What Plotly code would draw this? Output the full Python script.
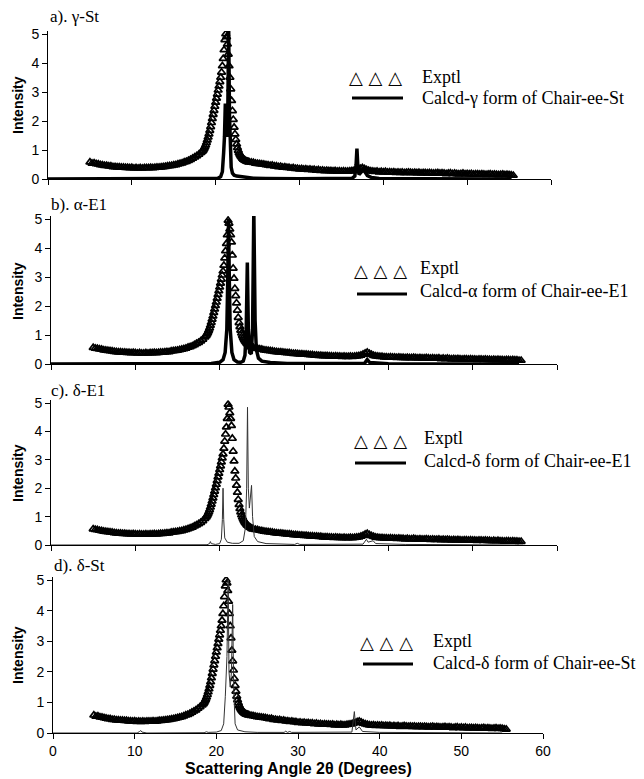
import plotly.graph_objects as go

# The page body adds an 8 px margin; the figure is sized to the visible area
OFF = 8
FW, FH = 644 - OFF, 779 - OFF

# ---------------- data ----------------
# Experimental patterns: three scan segments (start, step, values)
EXP_ST_LOW = [0.58, 0.54, 0.55, 0.52, 0.51, 0.49, 0.48, 0.46, 0.46, 0.44, 0.44, 0.42, 0.42, 0.41,
              0.41, 0.40, 0.40, 0.39, 0.39, 0.38, 0.39, 0.37, 0.38, 0.37, 0.38, 0.37, 0.38, 0.38,
              0.38, 0.39, 0.38, 0.39, 0.40, 0.40, 0.41, 0.42, 0.43, 0.44, 0.45, 0.46, 0.48, 0.49,
              0.51, 0.53, 0.55, 0.58, 0.60, 0.63, 0.67, 0.71, 0.75, 0.80, 0.85, 0.91]
EXP_ST_PEAK = [0.95, 0.99, 1.04, 1.10, 1.17, 1.25, 1.34, 1.44, 1.55, 1.67, 1.80, 1.94, 2.08, 2.22,
               2.36, 2.50, 2.64, 2.78, 2.92, 3.06, 3.20, 3.35, 3.50, 3.68, 3.90, 4.15, 4.45, 4.80,
               5.00, 4.90, 4.65, 4.30, 3.90, 3.50, 3.10, 2.70, 2.35, 2.05, 1.78, 1.55, 1.36, 1.20,
               1.08, 0.98, 0.90, 0.84, 0.79, 0.75, 0.71, 0.68, 0.66, 0.64, 0.62, 0.61, 0.60, 0.59]
EXP_ST_HIGH = [0.58, 0.57, 0.56, 0.54, 0.53, 0.52, 0.51, 0.50, 0.49,
               0.48, 0.46, 0.47, 0.44, 0.44, 0.42, 0.43, 0.40, 0.41, 0.39, 0.39, 0.37, 0.38, 0.36, 0.36, 0.34,
               0.35, 0.33, 0.34, 0.32, 0.33, 0.31, 0.32, 0.30, 0.31, 0.29, 0.30, 0.28, 0.29, 0.28, 0.28, 0.27,
               0.28, 0.26, 0.27, 0.26, 0.27, 0.26, 0.26, 0.27,
               0.28, 0.29, 0.31, 0.33, 0.36, 0.38, 0.35, 0.31, 0.29, 0.27, 0.26, 0.25,
               0.26, 0.24, 0.25, 0.24, 0.25, 0.23, 0.24, 0.23, 0.24, 0.22, 0.23, 0.22, 0.23, 0.21, 0.22, 0.23,
               0.22, 0.21, 0.22, 0.21, 0.22, 0.20, 0.21, 0.21,
               0.20, 0.21, 0.20, 0.19, 0.20, 0.21, 0.19, 0.20, 0.19, 0.18, 0.19, 0.20, 0.18, 0.19, 0.18, 0.17,
               0.18, 0.19, 0.17, 0.18, 0.17, 0.18, 0.16, 0.17,
               0.17, 0.16, 0.17, 0.16, 0.15, 0.16, 0.17, 0.15, 0.16, 0.15, 0.14, 0.15, 0.16, 0.14, 0.15, 0.14,
               0.13, 0.12]

EXP_E1_LOW = [0.56, 0.54, 0.53, 0.51, 0.50, 0.48, 0.47, 0.46, 0.45, 0.44, 0.43, 0.42, 0.41, 0.41,
              0.40, 0.40, 0.39, 0.39, 0.38, 0.39, 0.38, 0.37, 0.38, 0.37, 0.37, 0.38, 0.37, 0.38,
              0.38, 0.39, 0.38, 0.39, 0.40, 0.40, 0.41, 0.42, 0.42, 0.44, 0.45, 0.46, 0.47, 0.49,
              0.50, 0.52, 0.54, 0.57, 0.59, 0.62, 0.66, 0.70, 0.74, 0.79, 0.85, 0.93]
EXP_E1_PEAK = [0.98, 1.03, 1.09, 1.16, 1.24, 1.33, 1.43, 1.54, 1.65, 1.77, 1.89, 2.01, 2.13, 2.26,
               2.39, 2.52, 2.65, 2.78, 2.92, 3.06, 3.20, 3.40, 3.65, 3.90, 4.15, 4.45, 4.95, 4.85,
               4.65, 4.45, 4.20, 3.75, 3.30, 2.95, 2.60, 2.35, 2.10, 1.85, 1.60, 1.42, 1.28, 1.16,
               1.06, 0.98, 0.91, 0.85, 0.80, 0.76, 0.72, 0.69, 0.66, 0.64, 0.62, 0.60, 0.58, 0.57]
EXP_E1_HIGH = [0.56, 0.54, 0.53, 0.51, 0.50, 0.48, 0.47, 0.46, 0.45,
               0.44, 0.43, 0.42, 0.41, 0.41, 0.40, 0.39, 0.38, 0.38, 0.37, 0.36, 0.36, 0.35, 0.34, 0.34, 0.33,
               0.33, 0.32, 0.31, 0.31, 0.30, 0.30, 0.29, 0.29, 0.28, 0.28, 0.28, 0.27, 0.27, 0.26, 0.27, 0.26,
               0.26, 0.25, 0.26, 0.25, 0.25, 0.26, 0.25, 0.26,
               0.27, 0.28, 0.30, 0.33, 0.37, 0.40, 0.36, 0.32, 0.29, 0.27, 0.26, 0.25,
               0.25, 0.24, 0.24, 0.23, 0.24, 0.23, 0.23, 0.22, 0.23, 0.22, 0.22, 0.21, 0.22, 0.21, 0.21, 0.22,
               0.21, 0.20, 0.21, 0.20, 0.20, 0.21, 0.20, 0.19,
               0.20, 0.19, 0.19, 0.20, 0.18, 0.19, 0.18, 0.19, 0.18, 0.17, 0.18, 0.17, 0.18, 0.17, 0.16, 0.17,
               0.17, 0.16, 0.17, 0.16, 0.16, 0.15, 0.16, 0.16,
               0.15, 0.16, 0.15, 0.15, 0.14, 0.15, 0.14, 0.15, 0.14, 0.14, 0.13, 0.14, 0.14, 0.13, 0.14, 0.13,
               0.13, 0.12, 0.12]

SEG_LOW = (5.0, 0.25)
SEG_PEAK = (18.4, 0.1)
SEG_HIGH = (24.0, 0.25)

# Calculated patterns (2theta, intensity)
CALC_A_X = [0, 18, 19.5, 20.3, 20.6, 20.8, 20.95, 21.05, 21.15, 21.25, 21.35, 21.45, 21.55, 21.65,
            21.75, 21.85, 22.0, 22.2, 22.5, 23.0, 23.5, 24.5, 26, 30, 36.3, 36.6, 36.75, 36.85,
            36.95, 37.1, 37.4, 37.6, 37.8, 38.1, 38.6, 39.5, 45, 55.3]
CALC_A_Y = [0, 0, 0.01, 0.03, 0.08, 0.25, 0.9, 1.45, 2.6, 1.7, 1.45, 2.4, 5.3, 2.2,
            0.9, 0.4, 0.2, 0.13, 0.1, 0.08, 0.05, 0.03, 0.02, 0.01, 0.03, 0.1, 0.5, 1.05,
            0.5, 0.15, 0.25, 0.35, 0.25, 0.12, 0.05, 0.02, 0.01, 0]

CALC_B_X = [0, 15, 19, 20.0, 20.4, 20.65, 20.85, 20.95, 21.05, 21.15, 21.25, 21.45, 21.7, 22.1,
            22.5, 22.8, 23.0, 23.15, 23.28, 23.4, 23.55, 23.75, 23.9, 24.05, 24.2, 24.35, 24.6,
            25.0, 26, 28, 37.2, 37.5, 37.8, 40, 55.5]
CALC_B_Y = [0, 0, 0.02, 0.06, 0.15, 0.4, 1.2, 2.8, 5.0, 2.8, 1.2, 0.4, 0.15, 0.07,
            0.06, 0.1, 0.3, 1.2, 3.5, 1.2, 0.4, 0.35, 1.2, 5.3, 1.5, 0.5, 0.2,
            0.1, 0.05, 0.02, 0.03, 0.15, 0.05, 0.01, 0]

CALC_C_X = [0, 10, 18.5, 18.8, 18.9, 19.0, 19.5, 20.0, 20.2, 20.32, 20.4, 20.48, 20.6, 20.9,
            21.5, 22.3, 22.8, 23.05, 23.2, 23.3, 23.4, 23.52, 23.65, 23.78, 23.9, 24.1, 24.5,
            25.5, 28.9, 29.2, 29.5, 37.0, 37.4, 37.6, 38.2, 38.5, 42, 55.5]
CALC_C_Y = [0, 0, 0.01, 0.05, 0.12, 0.05, 0.02, 0.05, 0.2, 0.9, 2.0, 0.9, 0.25, 0.1,
            0.06, 0.06, 0.15, 0.6, 2.0, 4.85, 2.0, 1.3, 1.6, 2.1, 1.0, 0.3, 0.12,
            0.05, 0.02, 0.06, 0.02, 0.03, 0.2, 0.1, 0.15, 0.05, 0.02, 0]

CALC_D_X = [0, 10.3, 10.6, 10.75, 10.9, 11.5, 18.5, 18.8, 19.0, 20.0, 20.6, 20.9, 21.1, 21.3,
            21.45, 21.55, 21.7, 21.85, 22.0, 22.12, 22.3, 22.6, 23.5, 25, 28.3, 28.5, 28.7, 29.0,
            29.2, 36.6, 36.9, 37.1, 37.5, 37.9, 40, 55]
CALC_D_Y = [0, 0, 0.05, 0.08, 0.03, 0, 0.01, 0.04, 0.02, 0.03, 0.08, 0.3, 1.2, 2.5,
            5.0, 2.0, 1.5, 2.0, 4.2, 1.5, 0.3, 0.1, 0.04, 0.02, 0.02, 0.06, 0.02, 0.05,
            0.02, 0.03, 0.7, 0.1, 0.2, 0.05, 0.02, 0]

PANEL_LABELS = ["a). γ-St", "b). α-E1", "c). δ-E1", "d). δ-St"]
CALC_LABELS = ["Calcd-γ form of Chair-ee-St", "Calcd-α form of Chair-ee-E1",
               "Calcd-δ form of Chair-ee-E1", "Calcd-δ form of Chair-ee-St"]
X_TICKS = [0, 10, 20, 30, 40, 50, 60]
Y_TICKS = [0, 1, 2, 3, 4, 5]


def segment(seg, values):
    start, step = seg
    return [round(start + step * i, 3) for i in range(len(values))], values


def exp_xy(low, peak, high):
    x1, y1 = segment(SEG_LOW, low)
    x2, y2 = segment(SEG_PEAK, peak)
    x3, y3 = segment(SEG_HIGH, high)
    return x1 + x2 + x3, y1 + y2 + y3


EXP = [exp_xy(EXP_ST_LOW, EXP_ST_PEAK, EXP_ST_HIGH),
       exp_xy(EXP_E1_LOW, EXP_E1_PEAK, EXP_E1_HIGH),
       exp_xy(EXP_E1_LOW, EXP_E1_PEAK, EXP_E1_HIGH),
       exp_xy(EXP_ST_LOW, EXP_ST_PEAK, EXP_ST_HIGH)]
CALC = [(CALC_A_X, CALC_A_Y), (CALC_B_X, CALC_B_Y), (CALC_C_X, CALC_C_Y), (CALC_D_X, CALC_D_Y)]

# ---------------- layout geometry (window pixels) ----------------
# (x_left, x_right, y_of_0, y_of_5)
PANELS = [(48, 551, 179, 34), (51, 557, 364, 219), (51, 557, 545, 403), (53, 543, 733, 580)]
CALC_STYLE = [dict(color="black", width=3.5), dict(color="black", width=3.5),
              dict(color="#333333", width=1), dict(color="#333333", width=1)]
LEG = [  # triangles center x,y ; text x ; line x0,x1,y ; calc text y ; exptl y
    dict(tx=375, ty=77, lx=420, l0=352, l1=403, ly=98, ey=77, cy=98),
    dict(tx=380, ty=270, lx=418, l0=357, l1=407, ly=294, ey=268, cy=291),
    dict(tx=380, ty=440, lx=422, l0=355, l1=406, ly=463, ey=438, cy=461),
    dict(tx=386, ty=642, lx=431, l0=363, l1=413, ly=664, ey=641, cy=663),
]
LABEL_POS = [(48, 17), (49, 205), (49, 390), (52, 565)]
YTITLE_Y = [105, 291, 473, 655]

YMAX = 5.1


def px(x):
    return (x - OFF) / FW


def py(y):
    return 1 - (y - OFF) / FH


fig = go.Figure()
layout = dict(width=FW, height=FH, margin=dict(l=0, r=0, t=0, b=0, pad=0), autosize=False,
              paper_bgcolor="white", plot_bgcolor="white", showlegend=False)
annotations = []
shapes = []
sans = "Liberation Sans, Arial, sans-serif"
serif = "Liberation Serif, Times New Roman, serif"

for i in range(4):
    k = "" if i == 0 else str(i + 1)
    xl, xr, y0, y5 = PANELS[i]
    unit = (y0 - y5) / 5.0
    ytop = y0 - YMAX * unit
    layout["xaxis" + k] = dict(
        domain=[px(xl), px(xr)], range=[0, 60], anchor="y" + k, automargin=False,
        showline=True, linecolor="black", linewidth=1, showgrid=False, zeroline=False,
        ticks="outside", ticklen=5, tickcolor="black", tickvals=X_TICKS,
        showticklabels=(i == 3), tickfont=dict(family=sans, size=14, color="black"),
    )
    layout["yaxis" + k] = dict(
        domain=[py(y0), py(ytop)], range=[0, YMAX], anchor="x" + k, automargin=False,
        showline=True, linecolor="black", linewidth=1, showgrid=False, zeroline=False,
        ticks="outside", ticklen=5, tickcolor="black", tickvals=Y_TICKS,
        tickfont=dict(family=sans, size=14, color="black"),
    )
    ex, ey = EXP[i]
    fig.add_trace(go.Scatter(x=ex, y=ey, mode="markers", xaxis="x" + k, yaxis="y" + k,
                             marker=dict(symbol="triangle-up-open", size=7, color="black",
                                         line=dict(width=1.7, color="black")),
                             cliponaxis=True))
    cx, cy = CALC[i]
    fig.add_trace(go.Scatter(x=cx, y=cy, mode="lines", xaxis="x" + k, yaxis="y" + k,
                             line=CALC_STYLE[i]))
    # panel label
    lx, lyy = LABEL_POS[i]
    annotations.append(dict(text=PANEL_LABELS[i], xref="paper", yref="paper", x=px(lx), y=py(lyy),
                            xanchor="left", yanchor="middle", showarrow=False,
                            font=dict(family=serif, size=17, color="black")))
    # y title
    annotations.append(dict(text="<b>Intensity</b>", xref="paper", yref="paper", x=px(18),
                            y=py(YTITLE_Y[i]), xanchor="center", yanchor="middle", textangle=-90,
                            showarrow=False, font=dict(family=sans, size=14, color="black")))
    # legend
    L = LEG[i]
    annotations.append(dict(text="△ △ △", xref="paper", yref="paper", x=px(L["tx"]), y=py(L["ty"]),
                            xanchor="center", yanchor="middle", showarrow=False,
                            font=dict(family="DejaVu Sans", size=18, color="black")))
    annotations.append(dict(text="Exptl", xref="paper", yref="paper", x=px(L["lx"]), y=py(L["ey"]),
                            xanchor="left", yanchor="middle", showarrow=False,
                            font=dict(family=serif, size=18, color="black")))
    annotations.append(dict(text=CALC_LABELS[i], xref="paper", yref="paper", x=px(L["lx"]),
                            y=py(L["cy"]), xanchor="left", yanchor="middle", showarrow=False,
                            font=dict(family=serif, size=18, color="black")))
    shapes.append(dict(type="line", xref="paper", yref="paper", x0=px(L["l0"]), x1=px(L["l1"]),
                       y0=py(L["ly"]), y1=py(L["ly"]), line=dict(color="black", width=3)))

annotations.append(dict(text="<b>Scattering Angle 2θ (Degrees)</b>", xref="paper", yref="paper",
                        x=px(298), y=py(768), xanchor="center", yanchor="middle", showarrow=False,
                        font=dict(family=sans, size=16, color="black")))
layout["annotations"] = annotations
layout["shapes"] = shapes
fig.update_layout(**layout)
fig.write_html("out.html")
